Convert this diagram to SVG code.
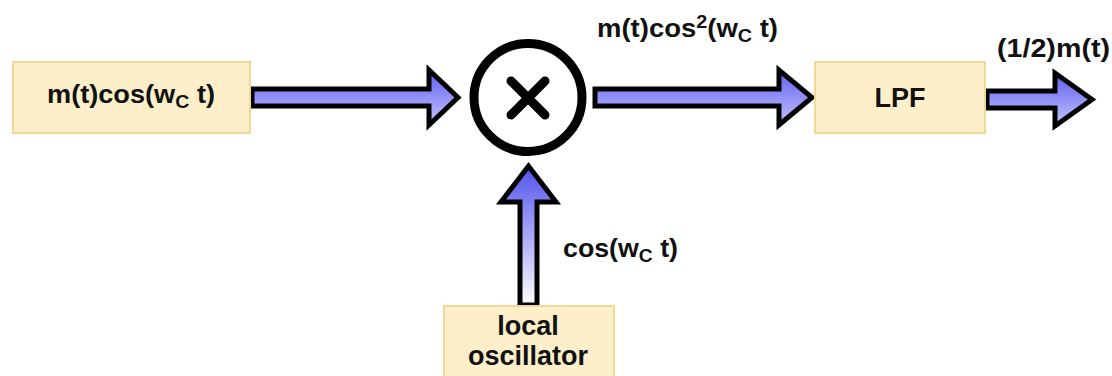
<svg xmlns="http://www.w3.org/2000/svg" width="1112" height="376" viewBox="0 0 1112 376">
<defs>
<linearGradient id="gh" x1="0" y1="0" x2="0" y2="1">
<stop offset="0" stop-color="#5f5ff0"/>
<stop offset="1" stop-color="#c4c4ff"/>
</linearGradient>
<linearGradient id="gv" x1="0" y1="0" x2="0" y2="1">
<stop offset="0" stop-color="#5252ee"/>
<stop offset="1" stop-color="#ffffff"/>
</linearGradient>
<style>
.box{fill:#fdefc9;stroke:#f1d898;stroke-width:2}
.t{font-family:"Liberation Sans",Arial,sans-serif;font-weight:bold;fill:#111}
.arr{stroke:#000;stroke-width:5;stroke-linejoin:miter}
</style>
</defs>
<rect width="1112" height="376" fill="#fff"/>

<g id="connectors">
<polygon class="arr" fill="url(#gh)" points="252,89 429,89 429,70 458,97.5 429,125 429,106 252,106"/>
<polygon class="arr" fill="url(#gh)" points="595,89 779,89 779,70 812,97.5 779,125 779,106 595,106"/>
<polygon class="arr" fill="url(#gh)" points="987,91 1055,91 1055,73 1092,99.5 1055,126 1055,108 987,108"/>
<polygon class="arr" fill="url(#gv)" points="520,305 520,202 501,202 528.5,166 556,202 537,202 537,305"/>
</g>

<g id="input">
<rect class="box" x="13" y="62" width="237" height="71"/>
<text class="t" x="47" y="103" font-size="25" textLength="168" lengthAdjust="spacingAndGlyphs">m(t)cos(w<tspan font-size="18" dy="5">C</tspan><tspan dy="-5"> t)</tspan></text>
</g>

<g id="mixer">
<circle cx="528" cy="97.5" r="54" fill="#fff" stroke="#000" stroke-width="9"/>
<path d="M511,81 L545,115 M545,81 L511,115" stroke="#000" stroke-width="9" stroke-linecap="round"/>
</g>

<g id="lpf">
<rect class="box" x="815" y="62" width="170" height="71"/>
<text class="t" x="900" y="107" font-size="27" text-anchor="middle">LPF</text>
</g>

<g id="oscillator">
<rect class="box" x="444" y="306" width="170" height="75"/>
<text class="t" x="528" y="335" font-size="27" text-anchor="middle">local</text>
<text class="t" x="528" y="365" font-size="27" text-anchor="middle">oscillator</text>
</g>

<g id="labels">
<text class="t" x="597" y="37" font-size="25" textLength="181" lengthAdjust="spacingAndGlyphs">m(t)cos<tspan font-size="18" dy="-9">2</tspan><tspan dy="9">(w</tspan><tspan font-size="18" dy="5">C</tspan><tspan dy="-5"> t)</tspan></text>
<text class="t" x="563" y="257" font-size="25" textLength="115" lengthAdjust="spacingAndGlyphs">cos(w<tspan font-size="18" dy="5">C</tspan><tspan dy="-5"> t)</tspan></text>
<text class="t" x="997" y="57" font-size="25" textLength="113" lengthAdjust="spacingAndGlyphs">(1/2)m(t)</text>
</g>
</svg>
